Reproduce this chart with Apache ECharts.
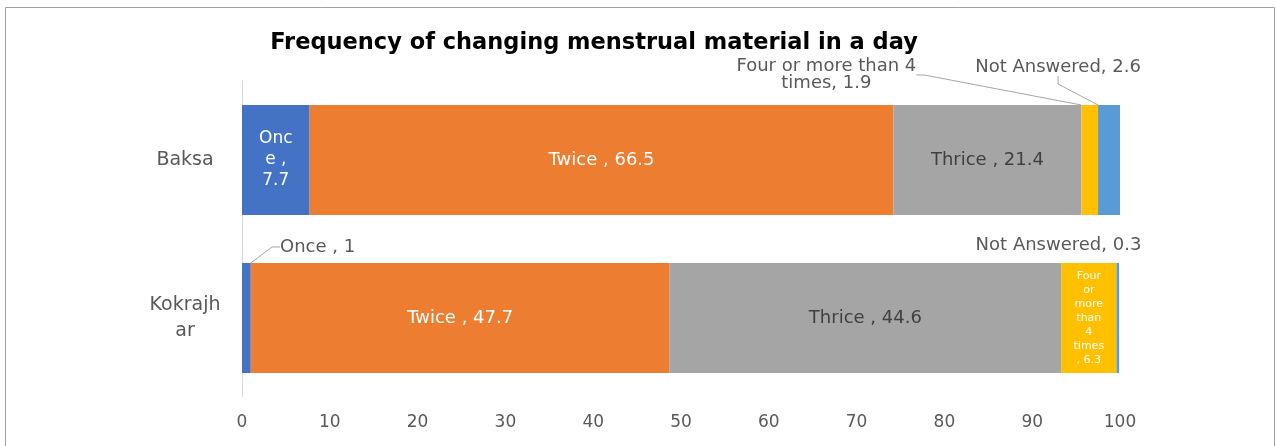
<!DOCTYPE html>
<html>
<head>
<meta charset="utf-8">
<script src="https://cdn.jsdelivr.net/npm/echarts@6/dist/echarts.min.js"></script>
<style>
  html, body { margin: 0; padding: 0; background: #fff; }
  #chart { width: 1276px; height: 446px; }
</style>
</head>
<body>
<div id="chart"></div>
<script>
// Districts (top to bottom) and percentage of respondents per answer
const categories = ['Baksa', 'Kokrajhar'];
const once = [7.7, 1];
const twice = [66.5, 47.7];
const thrice = [21.4, 44.6];
const fourOrMore = [1.9, 6.3];
const notAnswered = [2.6, 0.3];
const xMin = 0, xMax = 100, xStep = 10;

const FONT = '"DejaVu Sans", sans-serif';
const GREY_TEXT = '#595959';
const LEADER = { show: true, length2: 8, lineStyle: { color: '#a6a6a6', width: 1 } };

function labelStyle(color, size) {
  return { show: true, position: 'inside', color: color, fontFamily: FONT, fontSize: size || 18 };
}

const chart = echarts.init(document.getElementById('chart'), null, { renderer: 'canvas' });

chart.setOption({
  animation: false,
  backgroundColor: '#ffffff',
  title: {
    text: 'Frequency of changing menstrual material in a day',
    left: 589, top: 27, textAlign: 'center',
    textStyle: { fontFamily: FONT, fontWeight: 'bold', fontSize: 22.5, color: '#000' }
  },
  graphic: [{
    type: 'rect', silent: true,
    shape: { x: 5.5, y: 7.5, width: 1269, height: 470 },
    style: { fill: null, stroke: '#a0a0a0', lineWidth: 1 }
  }],
  grid: { left: 242, right: 156, top: 81, bottom: 49 },
  xAxis: {
    type: 'value', min: xMin, max: xMax, interval: xStep,
    axisLine: { show: false }, axisTick: { show: false }, splitLine: { show: false },
    axisLabel: { color: GREY_TEXT, fontFamily: FONT, fontSize: 17, margin: 17 }
  },
  yAxis: {
    type: 'category', data: categories, inverse: true,
    axisLine: { show: true, lineStyle: { color: '#d9d9d9' } },
    axisTick: { show: false },
    axisLabel: {
      color: GREY_TEXT, fontFamily: FONT, fontSize: 19, margin: 57, align: 'center',
      lineHeight: 26,
      formatter: v => v === 'Kokrajhar' ? 'Kokrajh\nar' : v
    }
  },
  series: [
    {
      name: 'Once', type: 'bar', stack: 'all', barWidth: 110,
      itemStyle: { color: '#4472c4' },
      data: [
        { value: once[0], label: Object.assign(labelStyle('#fff', 17), { lineHeight: 21, formatter: p => 'Onc\ne ,\n' + p.value }) },
        { value: once[1], label: Object.assign(labelStyle(GREY_TEXT), { formatter: p => 'Once , ' + p.value }), labelLine: LEADER }
      ],
      labelLayout: p => p.dataIndex === 1
        ? { x: p.rect.x + 38, y: p.rect.y - 16, align: 'left', verticalAlign: 'middle' } : {}
    },
    {
      name: 'Twice', type: 'bar', stack: 'all',
      itemStyle: { color: '#ed7d31' },
      label: Object.assign(labelStyle('#fff'), { formatter: p => 'Twice , ' + p.value }),
      data: twice
    },
    {
      name: 'Thrice', type: 'bar', stack: 'all',
      itemStyle: { color: '#a5a5a5' },
      label: Object.assign(labelStyle('#404040'), { formatter: p => 'Thrice , ' + p.value }),
      data: thrice
    },
    {
      name: 'Four or more than 4 times', type: 'bar', stack: 'all',
      itemStyle: { color: '#ffc000' },
      data: [
        { value: fourOrMore[0], label: Object.assign(labelStyle(GREY_TEXT), { lineHeight: 17, align: 'center', formatter: p => 'Four or more than 4\ntimes, ' + p.value }), labelLine: LEADER },
        { value: fourOrMore[1], label: Object.assign(labelStyle('#fff', 11), { lineHeight: 14, formatter: p => 'Four\nor\nmore\nthan\n4\ntimes\n, ' + p.value }) }
      ],
      labelLayout: p => p.dataIndex === 0
        ? { x: p.rect.x - 255, y: p.rect.y - 30, align: 'center', verticalAlign: 'middle' } : {}
    },
    {
      name: 'Not Answered', type: 'bar', stack: 'all',
      itemStyle: { color: '#5b9bd5' },
      data: [
        { value: notAnswered[0], label: Object.assign(labelStyle(GREY_TEXT), { formatter: p => 'Not Answered, ' + p.value }), labelLine: LEADER },
        { value: notAnswered[1], label: Object.assign(labelStyle(GREY_TEXT), { formatter: p => 'Not Answered, ' + p.value }) }
      ],
      labelLayout: p => p.dataIndex === 0
        ? { x: p.rect.x - 40, y: p.rect.y - 38, align: 'center', verticalAlign: 'middle' }
        : { x: p.rect.x - 58, y: p.rect.y - 18, align: 'center', verticalAlign: 'middle' }
    }
  ]
});
</script>
</body>
</html>
